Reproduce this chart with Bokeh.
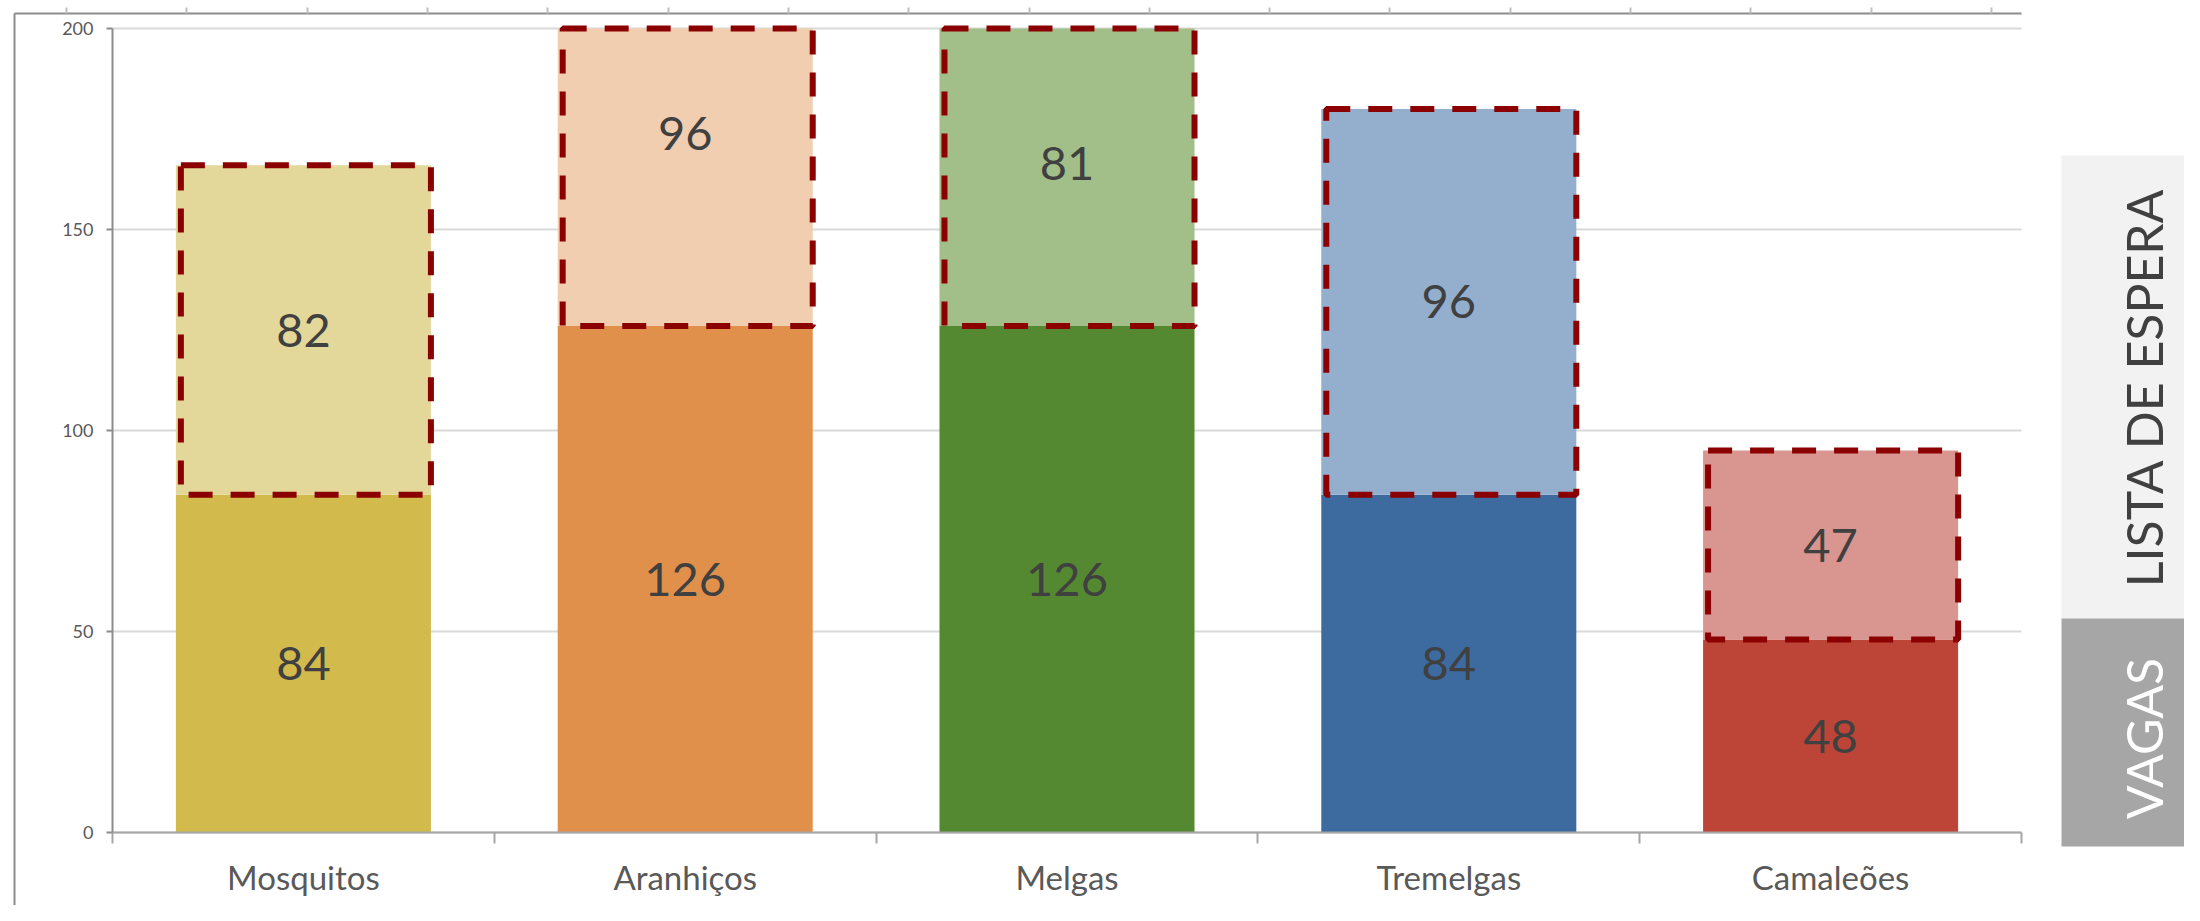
import numpy as np
from bokeh.plotting import figure
from bokeh.models import (ColumnDataSource, Range1d, FixedTicker, LinearAxis, Label)
from bokeh.core.properties import value
from bokeh.embed import file_html
from bokeh.resources import INLINE

# ---------------- data ----------------
categories = ["Mosquitos", "Aranhiços", "Melgas", "Tremelgas", "Camaleões"]
vagas = [84, 126, 126, 84, 48]
lista_espera = [82, 96, 81, 96, 47]
y_ticks = [0, 50, 100, 150, 200]
cor_vagas = ["#D3BA4D", "#E0904A", "#558931", "#3D6A9F", "#BD4537"]
cor_espera = ["#E3D799", "#F2CEB0", "#A2BF8A", "#94AFCE", "#D99590"]
painel_textos = ["LISTA DE ESPERA", "VAGAS"]

# ---------------- layout (canvas pixels) ----------------
W, H = 2184, 905
OUT_L, OUT_T = 14, 13            # outer chart-area lines
AX_L, AX_R, AX_T, AX_B = 112, 2021, 28, 832   # plot area (0..5, 0..200)
YMAX = 200
NCAT = len(categories)
FONT = "Lato"

ppx = (AX_R - AX_L) / NCAT
ppy = (AX_B - AX_T) / YMAX
x_start = -(AX_L - OUT_L) / ppx
x_end = NCAT + (W - AX_R) / ppx
y_start = -(H - AX_B) / ppy
y_end = YMAX + (AX_T - OUT_T) / ppy

p = figure(width=W, height=H, output_backend="svg", toolbar_location=None,
           x_range=Range1d(x_start, x_end), y_range=Range1d(y_start, y_end),
           min_border_left=OUT_L, min_border_right=0,
           min_border_top=OUT_T, min_border_bottom=0)
p.extra_x_ranges = {"px": Range1d(OUT_L, W)}
p.extra_y_ranges = {"py": Range1d(0, H - OUT_T)}   # pixels measured from canvas bottom
p.outline_line_color = None
p.background_fill_color = "white"
p.border_fill_color = "white"
p.xgrid.visible = False
p.ygrid.visible = False

def sy(py):  # canvas y (top origin) -> "py" range value
    return H - py

x = np.arange(NCAT) + 0.5
vag = np.array(vagas, dtype=float)
esp = np.array(lista_espera, dtype=float)
tot = vag + esp
bw = 0.668

# grid lines limited to the plot area
p.segment(x0=0, x1=NCAT, y0=y_ticks, y1=y_ticks, line_color="#D9D9D9", line_width=2)

src = ColumnDataSource(dict(x=x, vag=vag, top=np.minimum(tot, YMAX), cv=cor_vagas, ce=cor_espera,
                            lv=[str(v) for v in vagas], le=[str(v) for v in lista_espera],
                            yv=vag / 2, ye=vag + esp / 2,
                            left=x - bw / 2 + 5 / ppx, right=x + bw / 2))

p.vbar(x="x", bottom=0, top="vag", width=bw, fill_color="cv", line_color=None, source=src)
p.vbar(x="x", bottom="vag", top="top", width=bw, fill_color="ce", line_color=None, source=src)
p.quad(left="left", right="right", bottom="vag", top="top", fill_alpha=0,
       line_color="#8B0000", line_width=6, line_dash="24 18", source=src)

p.text(x="x", y="yv", text="lv", source=src, text_align="center", text_baseline="middle",
       text_font=value(FONT), text_font_size="47px", text_color="#404040")
p.text(x="x", y="ye", text="le", source=src, text_align="center", text_baseline="middle",
       text_font=value(FONT), text_font_size="47px", text_color="#404040")

# y axis (placed at x = 0)
ya = p.yaxis[0]
ya.fixed_location = 0
ya.bounds = (0, YMAX)
ya.ticker = FixedTicker(ticks=y_ticks, minor_ticks=[])
ya.axis_line_color = "#8C8C8C"
ya.axis_line_width = 2
ya.major_tick_line_color = "#8C8C8C"
ya.major_tick_line_width = 2
ya.major_tick_out = 6
ya.major_tick_in = 0
ya.minor_tick_line_color = None
ya.major_label_text_font = FONT
ya.major_label_text_font_size = "18px"
ya.major_label_text_color = "#595959"
ya.major_label_standoff = 13

# x axis (placed at y = 0; labels at centers, ticks at boundaries)
xa = p.xaxis[0]
xa.fixed_location = 0
xa.bounds = (0, NCAT)
xa.ticker = FixedTicker(ticks=list(x), minor_ticks=list(range(NCAT + 1)))
xa.major_label_overrides = {float(xi): c for xi, c in zip(x, categories)}
xa.axis_line_color = "#A6A6A6"
xa.axis_line_width = 2
xa.major_tick_line_color = None
xa.major_tick_out = 0
xa.major_tick_in = 0
xa.minor_tick_line_color = "#A6A6A6"
xa.minor_tick_line_width = 2
xa.minor_tick_out = 11
xa.minor_tick_in = 0
xa.major_label_text_font = FONT
xa.major_label_text_font_size = "33px"
xa.major_label_text_color = "#595959"
xa.major_label_standoff = 13

# outer chart-area lines: left vertical and top with small ticks
outer_left = LinearAxis(ticker=FixedTicker(ticks=[]), axis_line_color="#8C8C8C", axis_line_width=2,
                        major_tick_line_color=None, minor_tick_line_color=None,
                        major_label_text_font_size="0px", major_label_standoff=0)
p.add_layout(outer_left, "left")
top_ticks = list(np.linspace(66, 1991, 17))
outer_top = LinearAxis(x_range_name="px", ticker=FixedTicker(ticks=top_ticks, minor_ticks=[]),
                       bounds=(OUT_L, AX_R), axis_line_color="#8C8C8C", axis_line_width=2,
                       major_tick_line_color="#BFBFBF", major_tick_line_width=2,
                       major_tick_out=6, major_tick_in=0, minor_tick_line_color=None,
                       major_label_overrides={t: "" for t in top_ticks},
                       major_label_text_font_size="1px", major_label_standoff=0)
p.add_layout(outer_top, "above")

# right side panel
p.quad(left=2061, right=W, top=sy(155), bottom=sy(618), fill_color="#F2F2F2", line_color=None,
       x_range_name="px", y_range_name="py")
p.quad(left=2061, right=W, top=sy(618), bottom=sy(846), fill_color="#A6A6A6", line_color=None,
       x_range_name="px", y_range_name="py")
p.add_layout(Label(x=2143, y=sy(387), x_range_name="px", y_range_name="py", text=painel_textos[0],
                   angle=np.pi / 2, text_align="center", text_baseline="middle", text_font=FONT,
                   text_font_size="50px", text_color="#404040"))
p.add_layout(Label(x=2143, y=sy(738), x_range_name="px", y_range_name="py", text=painel_textos[1],
                   angle=np.pi / 2, text_align="center", text_baseline="middle", text_font=FONT,
                   text_font_size="50px", text_color="white"))

open("out.html", "w").write(file_html(p, INLINE))
